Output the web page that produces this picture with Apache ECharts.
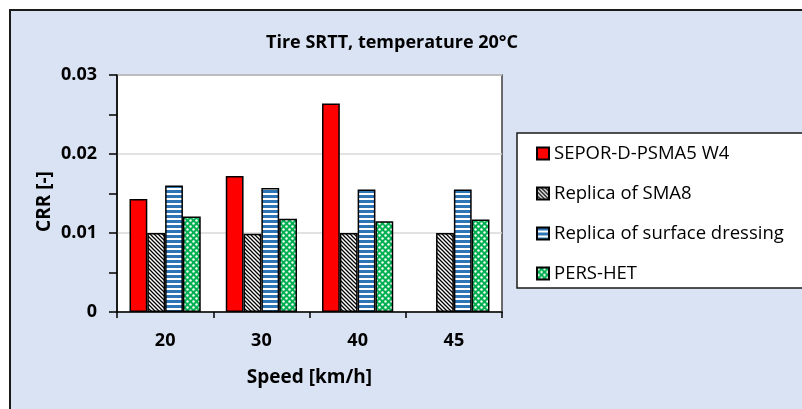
<!DOCTYPE html>
<html>
<head>
<meta charset="utf-8">
<script src="https://cdn.jsdelivr.net/npm/echarts@6/dist/echarts.min.js"></script>
<style>
html,body{margin:0;padding:0;background:#fff;}
#c{width:802px;height:409px;}
</style>
</head>
<body>
<div id="c"></div>
<script>
const categories = ['20', '30', '40', '45'];
const seriesNames = ['SEPOR-D-PSMA5 W4', 'Replica of SMA8', 'Replica of surface dressing', 'PERS-HET'];
const seporValues = [0.0143, 0.0172, 0.0264, null];
const sma8Values = [0.0100, 0.0099, 0.0100, 0.0100];
const dressingValues = [0.0160, 0.0157, 0.0155, 0.0155];
const persHetValues = [0.0121, 0.0118, 0.0115, 0.0117];
const yTicks = [0, 0.01, 0.02, 0.03];

function makePattern(size, draw) {
  const c = document.createElement('canvas');
  c.width = size; c.height = size;
  const ctx = c.getContext('2d');
  draw(ctx, size);
  return { image: c, repeat: 'repeat' };
}
const hatchBlack = makePattern(4, (ctx, s) => {
  ctx.fillStyle = '#fff'; ctx.fillRect(0, 0, s, s);
  ctx.strokeStyle = '#000'; ctx.lineWidth = 1.3;
  ctx.beginPath();
  ctx.moveTo(-1, -1); ctx.lineTo(s + 1, s + 1);
  ctx.moveTo(-1, s - 1); ctx.lineTo(1, s + 1);
  ctx.moveTo(s - 1, -1); ctx.lineTo(s + 1, 1);
  ctx.stroke();
});
const stripeBlue = makePattern(5, (ctx, s) => {
  ctx.fillStyle = '#fff'; ctx.fillRect(0, 0, s, s);
  ctx.fillStyle = '#2e75b6'; ctx.fillRect(0, 0, s, 3);
});
const dotGreen = makePattern(6, (ctx, s) => {
  ctx.fillStyle = '#00b050'; ctx.fillRect(0, 0, s, s);
  ctx.fillStyle = '#fff';
  ctx.beginPath(); ctx.arc(1.5, 1.5, 1.2, 0, Math.PI * 2); ctx.fill();
  ctx.beginPath(); ctx.arc(4.5, 4.5, 1.2, 0, Math.PI * 2); ctx.fill();
});

const FONT = 'Open Sans';
const chart = echarts.init(document.getElementById('c'));
const colors = ['#ff0000', hatchBlack, stripeBlue, dotGreen];
const datasets = [seporValues, sma8Values, dressingValues, persHetValues];

chart.setOption({
  animation: false,
  backgroundColor: '#ffffff',
  graphic: [
    { type: 'rect', z: -10, shape: { x: 10, y: 10, width: 820, height: 420 },
      style: { fill: '#dae3f3', stroke: '#1a1a1a', lineWidth: 2 } },
    { type: 'rect', z: 1, shape: { x: 517, y: 133, width: 300, height: 155 },
      style: { fill: '#ffffff', stroke: '#1a1a1a', lineWidth: 1.5 } }
  ],
  title: {
    text: 'Tire SRTT, temperature 20°C',
    left: 392, top: 34, textAlign: 'center', padding: 0,
    textStyle: { fontFamily: FONT, fontSize: 18, fontWeight: 'bold', color: '#000' }
  },
  legend: {
    orient: 'vertical', left: 536, top: 144, z: 5, padding: 0,
    itemWidth: 12, itemHeight: 12, itemGap: 21,
    textStyle: { fontFamily: FONT, fontSize: 18.5, color: '#000' },
    data: seriesNames.map(n => ({ name: n, icon: 'rect' }))
  },
  grid: {
    left: 117, top: 75, width: 385, height: 237,
    show: true, backgroundColor: '#ffffff', borderColor: '#404040', borderWidth: 1.5,
    containLabel: false
  },
  xAxis: {
    type: 'category', data: categories,
    name: 'Speed [km/h]', nameLocation: 'middle', nameGap: 56,
    nameTextStyle: { fontFamily: FONT, fontSize: 19, fontWeight: 'bold', color: '#000' },
    axisLine: { lineStyle: { color: '#000', width: 1.5 } },
    axisTick: { show: true, length: 6, lineStyle: { color: '#000', width: 1.5 } },
    axisLabel: { margin: 20, fontFamily: FONT, fontSize: 18, fontWeight: 'bold', color: '#000' }
  },
  yAxis: {
    type: 'value', min: yTicks[0], max: yTicks[yTicks.length - 1], interval: 0.01,
    name: 'CRR [-]', nameLocation: 'middle', nameGap: 63,
    nameTextStyle: { fontFamily: FONT, fontSize: 19, fontWeight: 'bold', color: '#000', padding: [0, 0, 0, -16] },
    axisLine: { show: true, lineStyle: { color: '#000', width: 1.5 } },
    axisTick: { show: true, length: 8, lineStyle: { color: '#000', width: 1.5 } },
    minorTick: { show: true, splitNumber: 2, length: 8, lineStyle: { color: '#000', width: 1.5 } },
    splitLine: { show: true, lineStyle: { color: '#d9d9d9', width: 1.5 } },
    axisLabel: { margin: 20, fontFamily: FONT, fontSize: 18, fontWeight: 'bold', color: '#000',
      formatter: v => (v === 0 ? '0' : v.toFixed(2)) }
  },
  series: seriesNames.map((name, i) => ({
    name, type: 'bar', data: datasets[i],
    barGap: '0%', barCategoryGap: '26%',
    itemStyle: { color: colors[i], borderColor: '#000', borderWidth: 1.5 }
  }))
});
</script>
</body>
</html>
